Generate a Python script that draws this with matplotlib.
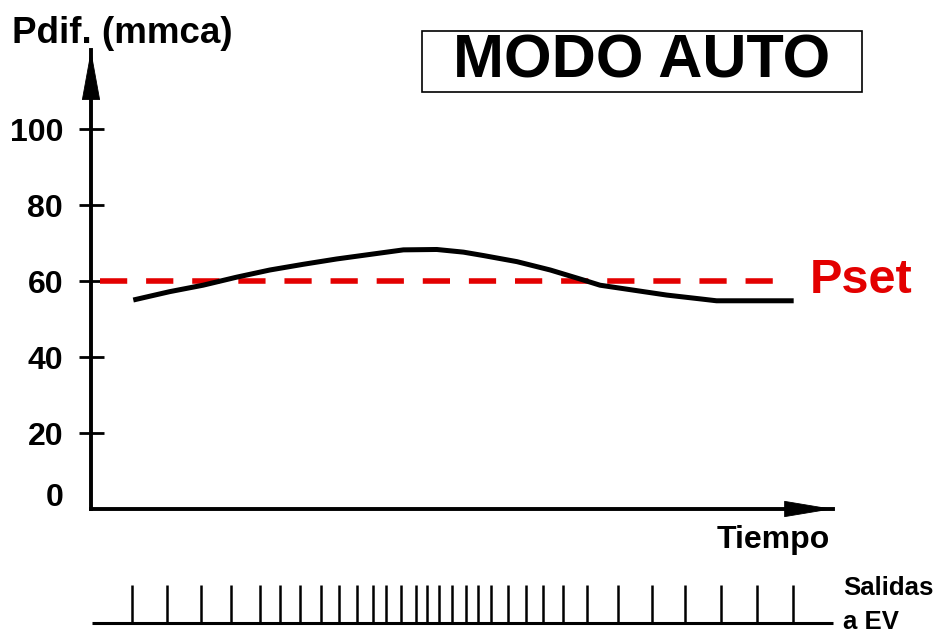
import matplotlib.pyplot as plt
from matplotlib.patches import Rectangle

plt.rcParams['font.family'] = ['Liberation Sans', 'DejaVu Sans']
plt.rcParams['font.weight'] = 'bold'

# curva de presion diferencial (tiempo 0-100, mmca)
tiempo = [5.7, 10.6, 15.1, 19.6, 24.1, 28.6, 33.1, 37.6, 42.1, 46.6, 50.2,
          52.9, 57.4, 61.9, 66.3, 68.6, 73.1, 77.6, 82.1, 84.3, 89.5, 94.7]
pdif = [55.0, 57.2, 58.9, 61.0, 62.9, 64.4, 65.8, 67.0, 68.2, 68.3, 67.6,
        66.7, 65.1, 62.9, 60.3, 58.9, 57.6, 56.3, 55.3, 54.8, 54.8, 54.8]

# consigna
pset = 60
pset_inicio, pset_fin = 1.2, 93.8

# pulsos de salida a las electrovalvulas
salidas_ev = [5.5, 10.2, 14.8, 18.9, 22.8, 25.5, 28.2, 31.0, 33.4, 35.8, 38.0,
              39.8, 41.8, 43.8, 45.3, 46.9, 48.6, 50.5, 52.2, 53.9, 56.2, 58.6,
              60.9, 63.6, 66.8, 71.0, 75.6, 80.1, 84.9, 89.8, 94.6]

yticks = [20, 40, 60, 80, 100]
ymax = 120.8

fig = plt.figure(figsize=(9.46, 6.33), dpi=100)
W, H = 946, 633

ax = fig.add_axes([91 / W, (H - 509) / H, (833 - 91) / W, (509 - 50) / H])
ax.set_xlim(0, 100)
ax.set_ylim(0, ymax)
for side in ['top', 'right']:
    ax.spines[side].set_visible(False)
for side in ['left', 'bottom']:
    ax.spines[side].set_linewidth(2.8)
ax.set_yticks(yticks)
ax.tick_params(axis='y', direction='inout', length=18, width=2, pad=11,
               labelsize=23)
ax.tick_params(axis='x', bottom=False, labelbottom=False)
ax.annotate('0', xy=(0, 2.9), xytext=(-20, 0), textcoords='offset points',
            ha='right', va='center', fontsize=23, fontweight='bold')

# puntas de flecha de los ejes
arrow_y = dict(arrowstyle='-|>,head_length=3.4,head_width=0.62', mutation_scale=10,
               lw=0.6, color='black', shrinkA=0, shrinkB=0)
arrow_x = dict(arrowstyle='-|>,head_length=3.3,head_width=0.55', mutation_scale=10,
               lw=0.6, color='black', shrinkA=0, shrinkB=0)
ax.annotate('', xy=(0, ymax), xytext=(0, 0), arrowprops=arrow_y,
            annotation_clip=False)
ax.annotate('', xy=(100, 0), xytext=(0, 0), arrowprops=arrow_x,
            annotation_clip=False)

ax.plot([pset_inicio, pset_fin], [pset, pset], color='#e30000', lw=4,
        dashes=(4.9, 3.4), zorder=2)
ax.plot(tiempo, pdif, color='black', lw=3.6, solid_capstyle='butt',
        solid_joinstyle='round', zorder=3)

ax.text(96.9, 56.8, 'Pset', color='#e30000', fontsize=35, fontweight='bold',
        ha='left', va='baseline')
ax.text(99.6, -10.3, 'Tiempo', fontsize=23, fontweight='bold',
        ha='right', va='baseline')

fig.text(12 / W, 1 - 43 / H, 'Pdif. (mmca)', fontsize=26.5, fontweight='bold',
         ha='left', va='baseline')

fig.patches.append(Rectangle((422 / W, 1 - 92 / H), 440 / W, 61 / H,
                             transform=fig.transFigure, fill=False,
                             edgecolor='black', lw=1.2))
fig.text(641.5 / W, 1 - 77 / H, 'MODO AUTO', fontsize=44, fontweight='bold',
         ha='center', va='baseline')

# tren de pulsos
ax2 = fig.add_axes([91 / W, (H - 623) / H, (833 - 91) / W, (623 - 585) / H])
ax2.set_xlim(0, 100)
ax2.set_ylim(0, 1)
ax2.axis('off')
ax2.vlines(salidas_ev, 0, 1, colors='black', lw=1.8, clip_on=False)
ax2.hlines(0, 0.1, 100, colors='black', lw=2.2, clip_on=False)

fig.text(843 / W, 1 - 595 / H, 'Salidas', fontsize=18.5, fontweight='bold',
         ha='left', va='baseline')
fig.text(843 / W, 1 - 629 / H, 'a EV', fontsize=18.5, fontweight='bold',
         ha='left', va='baseline')

fig.savefig('out.png', dpi=100)
